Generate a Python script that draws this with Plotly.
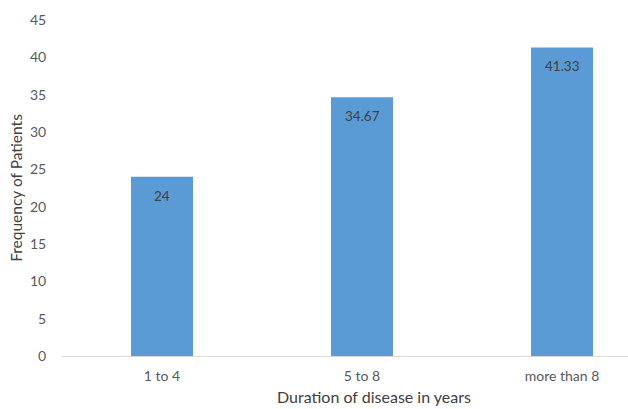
import plotly.graph_objects as go

categories = ["1 to 4", "5 to 8", "more than 8"]
values = [24, 34.67, 41.33]
value_labels = ["24", "34.67", "41.33"]
y_ticks = [0, 5, 10, 15, 20, 25, 30, 35, 40, 45]

fig = go.Figure()
fig.add_trace(go.Bar(
    x=list(range(len(categories))), y=values,
    marker=dict(color="#5B9BD5", line=dict(width=0)),
    width=0.31, hoverinfo="skip",
))

for i, (v, t) in enumerate(zip(values, value_labels)):
    fig.add_annotation(x=i, y=v, xref="x", yref="y", text=t, showarrow=False,
                       yanchor="top", yshift=-9,
                       font=dict(family="Lato", size=13.5, color="#404040"))

fig.add_annotation(x=1.06, y=-0.155, xref="x", yref="paper", text="Duration of disease in years",
                   showarrow=False, yanchor="bottom",
                   font=dict(family="Lato", size=16, color="#404040"))

fig.update_layout(
    width=628, height=409,
    margin=dict(l=62, r=0, t=20, b=53),
    plot_bgcolor="white", paper_bgcolor="white",
    showlegend=False,
    font=dict(family="Lato", size=14, color="#595959"),
    xaxis=dict(
        range=[-0.5, 2.33], tickmode="array", tickvals=list(range(len(categories))),
        ticktext=categories, showgrid=False, zeroline=False,
        showline=True, linecolor="#D9D9D9", linewidth=1,
        ticks="outside", ticklen=7, tickcolor="rgba(0,0,0,0)",
        tickfont=dict(size=14, color="#595959"),
    ),
    yaxis=dict(
        range=[0, 45], tickvals=y_ticks, showgrid=False, zeroline=False,
        showline=False, ticks="outside", ticklen=12, tickcolor="rgba(0,0,0,0)",
        tickfont=dict(size=14, color="#595959"),
        title=dict(text="Frequency of Patients", font=dict(size=15.5, color="#404040"), standoff=3),
    ),
)

fig.write_html("out.html")
